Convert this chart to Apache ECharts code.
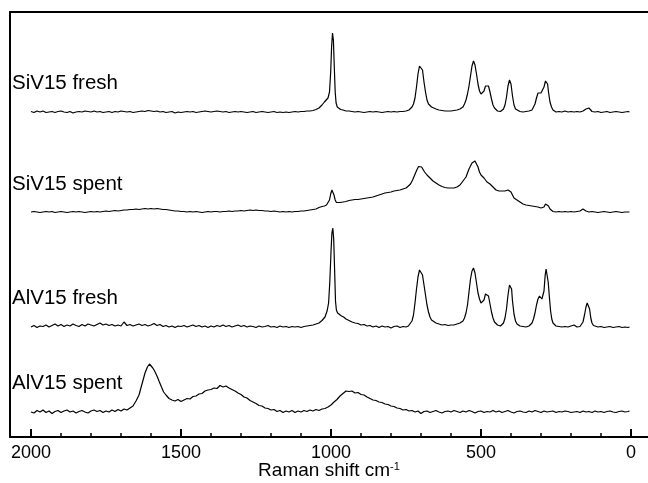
<!DOCTYPE html>
<html><head><meta charset="utf-8">
<script src="https://cdn.jsdelivr.net/npm/echarts@6/dist/echarts.min.js"></script>
<style>html,body{margin:0;padding:0;background:#fff}#c{width:648px;height:483px}</style>
</head><body><div id="c"></div>
<script>
// Raman shift tick labels (cm-1)
const tickLabels = [2000, 1500, 1000, 500, 0];
const minorTicks = [1900,1800,1700,1600,1400,1300,1200,1100,900,800,700,600,400,300,200,100];
const seriesNames = ['SiV15 fresh', 'SiV15 spent', 'AlV15 fresh', 'AlV15 spent'];
// vertical stacking offsets of each spectrum (a.u.)
const offsets = [324, 224, 109, 24];

// [Raman shift, intensity a.u.]
const siFresh = [
[2000,0.5],[1990,-0.5],[1980,1],[1970,0],[1960,1],[1950,-0.5],[1940,0],[1930,0.5],[1920,-0.5],[1910,0.5],
[1900,1],[1890,0],[1880,-0.5],[1870,0.5],[1860,-1],[1850,0],[1840,0.5],[1830,0],[1820,1],[1810,0.5],
[1800,0],[1790,1],[1780,0],[1770,0.5],[1760,-0.5],[1750,0],[1740,0.5],[1730,-0.5],[1720,0.5],[1710,0],
[1700,1],[1690,0.5],[1680,0],[1670,0.5],[1660,-0.5],[1650,0],[1640,0.5],[1630,1],[1620,0.5],[1610,1.5],
[1600,1],[1590,0.5],[1580,1],[1570,0],[1560,0.5],[1550,-0.5],[1540,0],[1530,0.5],[1520,-1],[1510,0],
[1500,-0.5],[1490,0],[1480,0.5],[1470,0],[1460,0.5],[1450,-0.5],[1440,0],[1430,0.5],[1420,1],[1410,0.5],
[1400,0],[1390,0.5],[1380,1],[1370,0.5],[1360,0],[1350,0.5],[1340,-0.5],[1330,0],[1320,0.5],[1310,0],
[1300,0.5],[1290,0],[1280,-0.5],[1270,0],[1260,0.5],[1250,-0.5],[1240,0],[1230,0.5],[1220,0],[1210,-0.5],
[1200,0],[1190,0.5],[1180,-0.5],[1170,0],[1160,-0.5],[1150,0],[1140,-0.5],[1130,0],[1120,0.5],[1110,0],
[1100,0.5],[1090,0.5],[1080,1],[1070,1],[1060,1.5],[1050,2.5],[1040,4],[1030,7],[1022,10],[1016,12],
[1010,14],[1005,20],[1001,40],[998,65],[995,79],[992,72],[989,45],[986,20],[983,9],[979,5],
[974,3.5],[968,2.5],[960,2],[950,1],[940,1],[930,0.5],[920,0],[910,0.5],[900,0],[890,-0.5],
[880,0],[870,0.5],[860,0],[850,0.5],[840,0],[830,-0.5],[820,0],[810,0.5],[800,0],[790,0.5],
[780,0],[770,0.5],[760,0.5],[750,1],[740,2],[730,5],[725,8],[720,14],[715,25],[710,38],
[705,46],[700,48],[695,42],[690,30],[685,20],[680,12],[675,8],[670,6],[665,5],[660,4],
[650,3],[640,2],[630,1.5],[620,1],[610,1],[600,1],[590,1.5],[580,2],[570,3],[560,5],
[555,8],[550,12],[545,18],[540,26],[535,36],[530,46],[525,51],[520,47],[515,38],[510,28],
[505,21],[500,18],[495,18],[490,21],[485,26],[480,28],[475,26],[470,20],[465,13],[460,7],
[455,4],[450,2],[445,1],[440,0],[435,0.5],[430,1],[425,3],[420,7],[415,15],[410,26],
[405,32],[400,28],[395,16],[390,7],[385,3],[380,1.5],[370,0.5],[360,0],[350,0.5],[340,1],
[330,2],[325,4],[320,8],[315,14],[310,19],[305,21],[300,19],[295,18],[290,25],[285,31],
[282,32],[278,28],[275,20],[270,10],[265,5],[260,2],[255,1],[250,0],[240,0.5],[230,0],
[220,1],[210,0],[200,0.5],[190,0],[180,0.5],[170,0],[160,1],[150,3],[145,4.5],[140,4],
[135,2],[130,0.5],[120,0],[110,0.5],[100,-0.5],[90,0],[80,0.5],[70,-0.5],[60,0],[50,0.5],
[40,0],[30,-0.5],[20,0],[10,0.5],[5,0]
];

const siSpent = [
[2000,0],[1990,0.5],[1980,0],[1970,-0.5],[1960,0],[1950,0.5],[1940,0],[1930,0.5],[1920,-0.5],[1910,0],
[1900,0.5],[1890,0],[1880,-0.5],[1870,0],[1860,0.5],[1850,0],[1840,0.5],[1830,0],[1820,-0.5],[1810,0],
[1800,0.5],[1790,0],[1780,0.5],[1770,0],[1760,0.5],[1750,1],[1740,0.5],[1730,1],[1720,1.5],[1710,1],
[1700,1.5],[1690,2],[1680,2],[1670,2.5],[1660,2.5],[1650,3],[1640,2.5],[1630,3],[1620,3.5],[1610,3],
[1600,3.5],[1590,3],[1580,3.5],[1570,3],[1560,2.5],[1550,2.5],[1540,2],[1530,1.5],[1520,1],[1510,1],
[1500,0.5],[1490,0.5],[1480,0],[1470,0.5],[1460,0],[1450,0.5],[1440,0],[1430,-0.5],[1420,0],[1410,0.5],
[1400,0],[1390,0.5],[1380,0.5],[1370,0],[1360,0.5],[1350,0.5],[1340,1],[1330,0.5],[1320,1],[1310,1],
[1300,1.5],[1290,1],[1280,1.5],[1270,2],[1260,1.5],[1250,2],[1240,1.5],[1230,1.5],[1220,1],[1210,1],
[1200,0.5],[1190,1],[1180,0.5],[1170,0],[1160,0.5],[1150,0],[1140,0.5],[1130,0],[1120,0.5],[1110,0.5],
[1100,1],[1090,1],[1080,1.5],[1070,2],[1060,2.5],[1050,3],[1040,4.5],[1030,5.5],[1022,6],[1015,7],
[1010,9],[1005,12],[1001,18],[997,22],[994,21],[990,17],[986,12],[982,9.5],[977,9],[970,9.5],
[960,10],[950,10.5],[940,11.5],[930,12],[920,12.5],[910,12.5],[900,13],[890,13.5],[880,14],[870,14.5],
[860,15],[850,16],[840,17],[830,18],[820,19],[810,19.5],[800,20],[790,21],[780,21.5],[770,22],
[760,23],[750,24],[742,26],[735,28],[728,32],[721,37],[714,42],[708,45.5],[703,46],[698,45],
[693,42.5],[688,40],[680,37],[670,34],[660,31],[650,29],[640,27],[630,25.5],[620,24.5],[610,24],
[600,24],[590,24],[580,25],[570,27],[560,31],[550,35],[540,43],[530,49],[525,51],[520,51],
[515,49],[510,45],[505,40],[500,37],[495,35],[490,34],[480,30],[470,28],[460,25],[450,22],
[440,21],[430,21],[420,21],[410,22],[405,22],[400,20],[395,17],[390,14],[380,12],[370,10],
[360,8],[350,7],[340,6.5],[330,6],[320,5.5],[310,5],[300,4],[295,3],[290,5],[285,8],
[280,8],[275,6],[270,3],[265,1],[260,0.5],[250,0],[240,0.5],[230,0],[220,0.5],[210,0],
[200,0.5],[190,0],[180,0.5],[170,1],[165,2.5],[160,3],[155,2.5],[150,1],[140,0],[130,0.5],
[120,0],[110,-0.5],[100,0],[90,0.5],[80,0],[70,-0.5],[60,0],[50,0.5],[40,0],[30,-0.5],
[20,0],[10,0],[5,0]
];

const alFresh = [
[2000,0],[1990,1.5],[1980,-0.5],[1970,1],[1960,0.5],[1950,2],[1940,0],[1930,1.5],[1920,3],[1910,1],
[1900,2.5],[1890,0.5],[1880,2],[1870,1],[1860,3],[1850,1.5],[1840,0.5],[1830,2.5],[1820,1],[1810,3],
[1800,2],[1790,1],[1780,2.5],[1770,4],[1760,2],[1750,3],[1740,1.5],[1730,2.5],[1720,1],[1710,2],
[1700,1],[1690,5],[1680,1.5],[1670,2.5],[1660,1],[1650,2],[1640,3],[1630,1.5],[1620,2.5],[1610,1],
[1600,2],[1590,3.5],[1580,1.5],[1570,2.5],[1560,0.5],[1550,1.5],[1540,0],[1530,1],[1520,-0.5],[1510,1],
[1500,0.5],[1490,1.5],[1480,0],[1470,1],[1460,2],[1450,0.5],[1440,1.5],[1430,0],[1420,1],[1410,-0.5],
[1400,1],[1390,0],[1380,1.5],[1370,0.5],[1360,2],[1350,0.5],[1340,1.5],[1330,0],[1320,1],[1310,2],
[1300,0.5],[1290,1.5],[1280,0],[1270,1],[1260,0.5],[1250,-0.5],[1240,1],[1230,0],[1220,0.5],[1210,1.5],
[1200,0],[1190,0.5],[1180,-0.5],[1170,1],[1160,0],[1150,0.5],[1140,-0.5],[1130,0.5],[1120,0],[1110,0.5],
[1100,-0.5],[1090,0.5],[1080,1],[1070,1.5],[1060,2],[1050,3],[1040,4],[1030,6.5],[1020,10],[1013,16],
[1008,24],[1004,45],[1000,75],[997,94],[994,99],[991,88],[988,58],[985,26],[982,17],[978,14],
[972,12.5],[965,11],[958,10],[950,8],[940,6.5],[930,5],[920,4],[910,3.5],[900,2],[890,2.5],
[880,1],[870,1.5],[860,0],[850,1],[840,-0.5],[830,1],[820,0],[810,0.5],[800,-1],[790,0.5],
[780,1],[770,-0.5],[760,0.5],[750,0],[742,1],[736,3],[730,6],[725,12],[720,24],[715,38],
[710,50],[705,57],[700,59],[695,52],[690,42],[685,32],[680,22],[675,15],[670,10],[665,7],
[660,5],[650,4],[640,3],[630,2],[620,2.5],[610,1.5],[600,2],[590,2],[580,3],[570,4],
[560,6],[555,9],[550,14],[545,22],[540,35],[535,48],[530,56],[525,59],[520,54],[515,44],
[510,34],[505,28],[500,24],[495,22],[490,27],[485,33],[480,34],[475,31],[470,23],[465,15],
[460,9],[455,5],[450,3],[445,2],[440,1],[435,1],[430,2],[425,4],[420,9],[415,18],
[410,32],[405,42],[402,44],[398,38],[395,26],[390,13],[385,6],[380,3],[375,2],[370,1],
[360,0.5],[350,0],[340,1],[335,2],[330,4],[325,8],[320,14],[315,22],[310,28],[305,31],
[300,31],[297,28],[293,27],[290,36],[286,52],[283,58],[280,57],[276,45],[272,30],[268,16],
[264,8],[260,4],[255,2],[250,1],[240,0.5],[230,0],[220,0.5],[210,0],[200,1],[190,2],
[185,1],[180,0],[170,0.5],[165,2],[160,5],[155,12],[150,20],[146,24],[142,24],[138,18],
[134,9],[130,4],[125,1.5],[120,0.5],[110,0],[100,0.5],[90,-0.5],[80,0],[70,0.5],[60,-0.5],
[50,0],[40,0.5],[30,-0.5],[20,0],[10,-0.5],[5,0]
];

const alSpent = [
[2000,0],[1990,-1],[1980,1.5],[1970,0],[1960,2],[1950,-0.5],[1940,1],[1930,-1.5],[1920,0.5],[1910,1.5],
[1900,-0.5],[1890,1],[1880,2],[1870,0],[1860,1],[1850,-1],[1840,0.5],[1830,1.5],[1820,0],[1810,-1],
[1800,1],[1790,2],[1780,0.5],[1770,1.5],[1760,-0.5],[1750,1],[1740,0],[1730,2],[1720,0.5],[1710,2.5],
[1700,1],[1690,3],[1680,2],[1670,4],[1660,6],[1650,11],[1640,17],[1630,28],[1620,39],[1612,45],
[1605,48],[1600,46],[1594,44],[1588,41],[1580,36],[1572,30],[1565,25],[1558,20],[1550,17],[1540,13.5],
[1530,12],[1520,11],[1510,12.5],[1500,10.5],[1490,12],[1480,13.5],[1470,13],[1460,15.5],[1450,16],[1440,18],
[1430,18.5],[1420,21],[1410,22],[1400,22.5],[1390,24],[1380,23.5],[1370,26.5],[1360,25],[1350,26],[1340,24],
[1330,22.5],[1320,21],[1310,19],[1300,17.5],[1290,15],[1280,14],[1270,11.5],[1260,10],[1250,8.5],[1240,6.5],
[1230,6],[1220,4],[1210,3.5],[1200,2],[1190,2.5],[1180,0.5],[1170,1.5],[1160,-0.5],[1150,1],[1140,0],
[1130,1.5],[1120,-0.5],[1110,1],[1100,0],[1090,1.5],[1080,0.5],[1070,2],[1060,1],[1050,2.5],[1040,1.5],
[1030,3],[1020,3.5],[1010,5],[1000,7],[990,10],[980,12.5],[970,16],[960,18.5],[950,21],[940,20.5],
[930,21],[920,19],[910,19.5],[900,17.5],[890,17],[880,15],[870,13.5],[860,12],[850,11.5],[840,10],
[830,9.5],[820,8],[810,7.5],[800,6],[790,5.5],[780,4],[770,3.5],[760,2],[750,2.5],[740,1],
[730,1.5],[720,0],[710,1],[700,-1.5],[690,0.5],[680,1],[670,-0.5],[660,0.5],[650,1.5],[640,0],
[630,-1],[620,0.5],[610,1],[600,0],[590,1.5],[580,0.5],[570,-0.5],[560,1],[550,0],[540,1.5],
[530,0.5],[520,-1],[510,0.5],[500,1],[490,-0.5],[480,0.5],[470,0],[460,1.5],[450,0],[440,1],
[430,-0.5],[420,0.5],[410,1.5],[400,0],[390,-1],[380,0.5],[370,1],[360,0],[350,-0.5],[340,1],
[330,0],[320,1.5],[310,0.5],[300,-0.5],[290,1],[280,0],[270,0.5],[260,1],[250,-0.5],[240,0.5],
[230,0],[220,1],[210,0.5],[200,-0.5],[190,0],[180,0.5],[170,-0.5],[160,1],[150,0],[140,0.5],
[130,-0.5],[120,1],[110,0],[100,0.5],[90,-0.5],[80,0.5],[70,1],[60,0],[50,-0.5],[40,0.5],
[30,1],[20,0],[10,0.5],[5,1]
];

const spectra = [siFresh, siSpent, alFresh, alSpent];
const labelY = [83, 184, 298, 383];
const FONT = '"Liberation Sans", Arial, Helvetica, sans-serif';

const chart = echarts.init(document.getElementById('c'), null, {renderer: 'canvas'});
const xCommon = {type: 'value', min: -56.7, max: 2070, inverse: true, splitLine: {show: false}};
chart.setOption({
  animation: false,
  backgroundColor: '#fff',
  grid: {left: 10, right: 0, top: 12, bottom: 46, show: false, outerBoundsMode: 'none', containLabel: false},
  xAxis: [
    Object.assign({}, xCommon, {
      position: 'bottom',
      name: '{a|Raman shift cm}{b|-1}', nameLocation: 'middle', nameGap: 24, nameMoveOverlap: false,
      nameTextStyle: {rich: {
        a: {fontFamily: FONT, fontSize: 19, color: '#000'},
        b: {fontFamily: FONT, fontSize: 11, color: '#000', padding: [0, 0, 9, 0]}
      }},
      axisLine: {show: true, onZero: false, lineStyle: {color: '#000', width: 2}},
      axisTick: {show: true, inside: true, length: 8, customValues: tickLabels, lineStyle: {color: '#000', width: 2}},
      axisLabel: {customValues: tickLabels, color: '#000', fontFamily: FONT, fontSize: 18, margin: 7,
        formatter: v => String(v)}
    }),
    Object.assign({}, xCommon, {
      position: 'bottom',
      axisLine: {show: false, onZero: false},
      axisLabel: {show: false},
      axisTick: {show: true, inside: true, length: 4, customValues: minorTicks, lineStyle: {color: '#000', width: 1.5}}
    }),
    Object.assign({}, xCommon, {
      position: 'top',
      axisLine: {show: true, onZero: false, lineStyle: {color: '#000', width: 2}},
      axisLabel: {show: false},
      axisTick: {show: false}
    })
  ],
  yAxis: {type: 'value', min: -1, max: 424, position: 'left',
    axisLine: {show: true, onZero: false, lineStyle: {color: '#000', width: 2}},
    axisTick: {show: false}, axisLabel: {show: false}, splitLine: {show: false}},
  graphic: seriesNames.map((n, i) => ({
    type: 'text', x: 12, y: labelY[i],
    style: {text: n, font: '20.5px ' + FONT, fill: '#000', verticalAlign: 'middle'}
  })),
  series: spectra.map((s, i) => ({
    name: seriesNames[i], type: 'line', xAxisIndex: 0, showSymbol: false, symbol: 'none',
    lineStyle: {color: '#000', width: 1.2},
    data: s.map(p => [p[0], p[1] + offsets[i]])
  }))
});
</script>
</body></html>
